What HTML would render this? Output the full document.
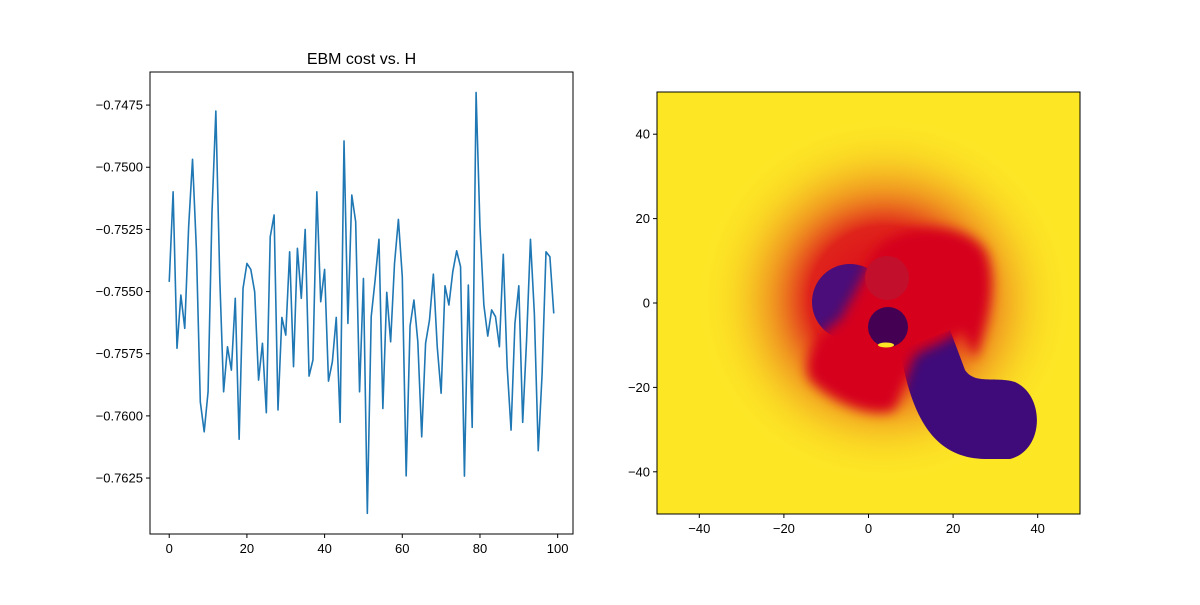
<!DOCTYPE html>
<html><head><meta charset="utf-8"><style>
html,body{margin:0;padding:0;background:#fff;}
svg text{font-family:"Liberation Sans",sans-serif;font-size:13px;fill:#000;}
</style></head><body>
<svg id="fig" width="1200" height="600" xmlns="http://www.w3.org/2000/svg">
<rect width="1200" height="600" fill="#fff"/>
<g id="left"></g>
<g id="right">
 <defs>
  <clipPath id="rc"><rect x="657" y="92" width="423" height="422"/></clipPath>
  <radialGradient id="haze" cx="0.5" cy="0.5" r="0.5">
   <stop offset="0" stop-color="#d9001a" stop-opacity="1"/>
   <stop offset="0.4" stop-color="#dc0e1a" stop-opacity="0.9"/>
   <stop offset="0.6" stop-color="#e5501c" stop-opacity="0.5"/>
   <stop offset="0.8" stop-color="#f09a22" stop-opacity="0.2"/>
   <stop offset="1" stop-color="#fde725" stop-opacity="0"/>
  </radialGradient>
  <filter id="bl"><feGaussianBlur stdDeviation="6"/></filter>
 </defs>
 <g clip-path="url(#rc)">
  <rect x="657" y="92" width="423" height="422" fill="#fde725"/>
  <ellipse cx="885" cy="300" rx="190" ry="185" fill="url(#haze)"/>
  <path d="M900,350 C912,420 935,458 985,459 L1010,459 C1045,450 1045,395 1015,382 C995,376 975,385 965,370 L950,330 Z" fill="#3f0a7a"/>
  <circle cx="850" cy="302" r="38" fill="#4a0d7a"/>
  <path d="M870,260 C880,225 960,215 985,250 C1000,280 985,330 975,360 L960,330 C950,340 935,345 925,350 L915,355 C905,380 900,400 895,410 C870,420 830,400 810,380 C800,360 820,330 840,320 C850,300 860,285 870,260 Z" fill="#d6001c" filter="url(#bl)"/>
  <circle cx="887" cy="278" r="22" fill="#c2102c"/>
  <circle cx="888" cy="327" r="20" fill="#440154"/>
  <ellipse cx="886" cy="345" rx="8" ry="2.5" fill="#fde725"/>
 </g>
 <rect x="657" y="92" width="423" height="422" fill="none" stroke="#000" stroke-width="1"/>
</g>
</svg>
<script>
const xValues = [];
for (let i = 0; i < 100; i++) xValues.push(i);
const costValues = [-0.75461,-0.75099,-0.75728,-0.75514,-0.75648,-0.75239,-0.74968,-0.75333,-0.75943,-0.76064,
-0.75903,-0.75186,-0.74774,-0.75440,-0.75903,-0.75722,-0.75816,-0.75527,-0.76094,-0.75487,
-0.75387,-0.75411,-0.75501,-0.75856,-0.75708,-0.75987,-0.75280,-0.75192,-0.75976,-0.75604,
-0.75675,-0.75340,-0.75802,-0.75326,-0.75527,-0.75250,-0.75840,-0.75775,-0.75099,-0.75541,
-0.75411,-0.75860,-0.75782,-0.75604,-0.76026,-0.74894,-0.75628,-0.75112,-0.75219,-0.75903,
-0.75447,-0.76392,-0.75601,-0.75454,-0.75290,-0.75970,-0.75503,-0.75702,-0.75387,-0.75210,
-0.75440,-0.76241,-0.75639,-0.75534,-0.75702,-0.76084,-0.75708,-0.75615,-0.75430,-0.75722,
-0.75909,-0.75477,-0.75554,-0.75420,-0.75336,-0.75400,-0.76242,-0.75474,-0.76046,-0.74699,
-0.75239,-0.75554,-0.75679,-0.75574,-0.75601,-0.75722,-0.75350,-0.75802,-0.76057,-0.75628,
-0.75477,-0.76026,-0.75695,-0.75290,-0.75588,-0.76140,-0.75829,-0.75340,-0.75360,-0.75588];
const leftXTicks = [0,20,40,60,80,100];
const leftYTicks = [-0.7625,-0.7600,-0.7575,-0.7550,-0.7525,-0.7500,-0.7475];
const rightTicks = [-40,-20,0,20,40];

const NS = "http://www.w3.org/2000/svg";
function mk(tag, attrs, parent){const e=document.createElementNS(NS,tag);for(const k in attrs)e.setAttribute(k,attrs[k]);parent.appendChild(e);return e;}
const L = {x0:150,x1:573,y0:72,y1:534};
const xmin=-4.95,xmax=103.95,ymin=-0.76475,ymax=-0.74617;
const sx = v => L.x0 + (v-xmin)/(xmax-xmin)*(L.x1-L.x0);
const sy = v => L.y1 - (v-ymin)/(ymax-ymin)*(L.y1-L.y0);
const left = document.getElementById('left');
const frame = mk('rect',{x:L.x0,y:L.y0,width:L.x1-L.x0,height:L.y1-L.y0,fill:'none',stroke:'#000','stroke-width':1},left);


const d = costValues.map((v,i)=>(i?'L':'M')+sx(xValues[i]).toFixed(2)+','+sy(v).toFixed(2)).join('');
const line = mk('path',{d:d,fill:'none',stroke:'#1f77b4','stroke-width':1.6,'stroke-linejoin':'round'},left);


leftXTicks.forEach(t=>{
  const x=sx(t);
  mk('line',{x1:x,x2:x,y1:L.y1,y2:L.y1+4,stroke:'#000'},left);
  const tx=mk('text',{x:x,y:L.y1+19,'text-anchor':'middle'},left);tx.textContent=t;
  
  
});
leftYTicks.forEach(t=>{
  const y=sy(t);
  mk('line',{x1:L.x0-4,x2:L.x0,y1:y,y2:y,stroke:'#000'},left);
  const tx=mk('text',{x:L.x0-7,y:y+4.5,'text-anchor':'end'},left);tx.textContent='\u2212'+Math.abs(t).toFixed(4);
  
  
});
const title=mk('text',{x:(L.x0+L.x1)/2,y:64,'text-anchor':'middle',style:'font-size:16px'},left);
title.textContent='EBM cost vs. H';



const right=document.getElementById('right');
const R={x0:657,x1:1080,y0:92,y1:514};
const rx=v=>R.x0+(v+50)/100*(R.x1-R.x0);
const ry=v=>R.y1-(v+50)/100*(R.y1-R.y0);
rightTicks.forEach(t=>{
  const x=rx(t);
  mk('line',{x1:x,x2:x,y1:R.y1,y2:R.y1+4,stroke:'#000'},right);
  const tx=mk('text',{x:x,y:R.y1+19,'text-anchor':'middle'},right);tx.textContent=(t<0?'\u2212':'')+Math.abs(t);
  
  
  const y=ry(t);
  mk('line',{x1:R.x0-4,x2:R.x0,y1:y,y2:y,stroke:'#000'},right);
  const ty=mk('text',{x:R.x0-7,y:y+4.5,'text-anchor':'end'},right);ty.textContent=(t<0?'\u2212':'')+Math.abs(t);
  
  
});
</script>
</body></html>
